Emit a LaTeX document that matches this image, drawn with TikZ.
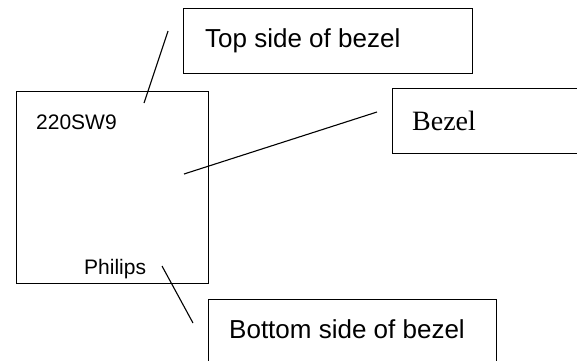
\documentclass[tikz,border=0pt]{standalone}
\usepackage{fontspec}
\setmainfont{Liberation Sans}
\newfontfamily\serifbz{Liberation Serif}
\begin{document}
\begin{tikzpicture}[x=1pt,y=-1pt,
  boxshape/.style={draw,line width=1.2pt,rectangle,inner sep=0pt,anchor=north west},
  lbl/.style={inner sep=0pt,anchor=base west},
  leader/.style={line width=1.1pt}]
\useasboundingbox (0,0) rectangle (577,360);
\clip (0,0) rectangle (577,360);
% boxes
\node[boxshape,minimum width=192pt,minimum height=192pt] (panel) at (16,91) {};
\node[boxshape,minimum width=289pt,minimum height=65pt] (topbox) at (183,8) {};
\node[boxshape,minimum width=200pt,minimum height=65pt] (bezbox) at (392,88) {};
\node[boxshape,minimum width=288pt,minimum height=80pt] (botbox) at (208,299) {};
% texts
\node[lbl,font=\fontsize{21}{21}\selectfont] (model) at (36,129) {220SW9};
\node[lbl,font=\fontsize{21}{21}\selectfont] (brand) at (84,274) {Philips};
\node[lbl,font=\fontsize{26}{26}\selectfont] (toptxt) at (205,47) {Top side of bezel};
\node[lbl,font=\serifbz\fontsize{28}{28}\selectfont] (beztxt) at (412,130) {Bezel};
\node[lbl,font=\fontsize{26}{26}\selectfont] (bottxt) at (229,338) {Bottom side of bezel};
% leader lines
\coordinate (t1) at (168,31);
\coordinate (t2) at (144,103);
\coordinate (b1) at (184,174);
\coordinate (b2) at (377,112);
\coordinate (p1) at (162,266);
\coordinate (p2) at (193,323);
\draw[leader] (t1) -- (t2);
\draw[leader] (b1) -- (b2);
\draw[leader] (p1) -- (p2);
\end{tikzpicture}
\end{document}
